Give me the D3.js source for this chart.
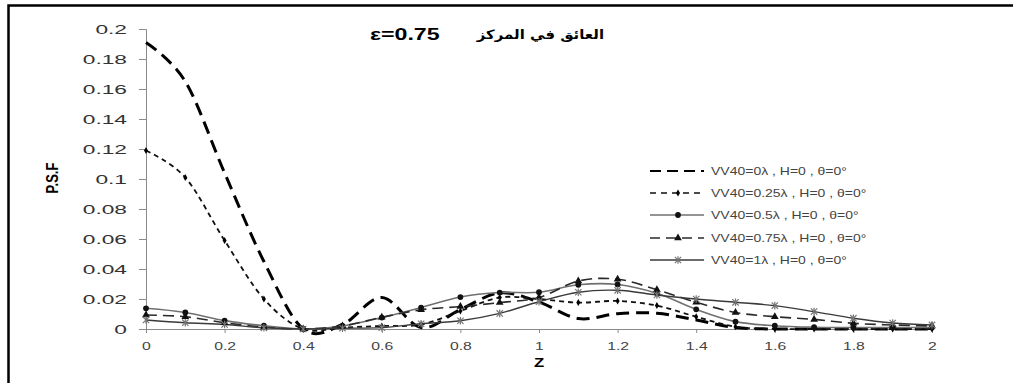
<!DOCTYPE html>
<html>
<head>
<meta charset="utf-8">
<script src="https://cdn.jsdelivr.net/npm/d3@7"></script>
<style>
  body { margin: 0; background: #fff; }
  svg { display: block; font-family: 'Liberation Sans', Arial, sans-serif; }
</style>
</head>
<body>
<figure id="psf" style="margin:0"></figure>
<script>
// z positions and tick labels
const zValues = [0, 0.1, 0.2, 0.3, 0.4, 0.5, 0.6, 0.7, 0.8, 0.9, 1, 1.1, 1.2, 1.3, 1.4, 1.5, 1.6, 1.7, 1.8, 1.9, 2];
const xTicks = [0, 0.2, 0.4, 0.6, 0.8, 1, 1.2, 1.4, 1.6, 1.8, 2];
const yTicks = [0, 0.02, 0.04, 0.06, 0.08, 0.1, 0.12, 0.14, 0.16, 0.18, 0.2];

const seriesNames = [
  'VV40=0λ , H=0 , θ=0°',
  'VV40=0.25λ , H=0 , θ=0°',
  'VV40=0.5λ , H=0 , θ=0°',
  'VV40=0.75λ , H=0 , θ=0°',
  'VV40=1λ , H=0 , θ=0°'
];

// P.S.F values
const psfW0 = [0.191, 0.165, 0.104, 0.045, 0, 0.003, 0.021, 0.001, 0.013, 0.024, 0.018, 0.007, 0.0102, 0.0105, 0.006, 0.001, 0, 0, 0, 0, 0];
const psfW025 = [0.119, 0.101, 0.059, 0.020, 0, 0.001, 0.002, 0.003, 0.012, 0.021, 0.020, 0.0176, 0.0187, 0.0156, 0.0082, 0.0015, 0, 0, 0, 0, 0];
const psfW05 = [0.0138, 0.011, 0.0056, 0.0022, 0, 0.002, 0.0076, 0.0143, 0.0213, 0.0243, 0.0245, 0.0295, 0.0297, 0.0238, 0.0131, 0.0049, 0.0022, 0.0012, 0.001, 0.001, 0.001];
const psfW075 = [0.0093, 0.0082, 0.0042, 0.0012, 0, 0.002, 0.0078, 0.0128, 0.015, 0.0176, 0.021, 0.032, 0.0332, 0.0262, 0.0178, 0.011, 0.0082, 0.0064, 0.0038, 0.0027, 0.002];
const psfW1 = [0.006, 0.0042, 0.003, 0.0008, 0, 0.0005, 0.0009, 0.0035, 0.0055, 0.0104, 0.0182, 0.0245, 0.0258, 0.0227, 0.020, 0.0178, 0.0156, 0.0116, 0.0072, 0.004, 0.0027];

const width = 1013, height = 383;
const plot = { left: 146, right: 932, top: 29, bottom: 329 };

const svg = d3.select('figure#psf').append('svg')
  .attr('width', width)
  .attr('height', height);

// outer frame (right and bottom edges run off the picture)
svg.append('rect')
  .attr('x', 8.5).attr('y', 5.5)
  .attr('width', 1100).attr('height', 500)
  .attr('fill', 'none').attr('stroke', '#000').attr('stroke-width', 2.5);

const xScale = d3.scaleLinear().domain([0, 2]).range([plot.left, plot.right]);
const yScale = d3.scaleLinear().domain([0, 0.2]).range([plot.bottom, plot.top]);

// asterisk marker like the spreadsheet one
const asterisk = {
  draw(ctx, size) {
    const r = Math.sqrt(size) / 2;
    ctx.moveTo(-r, -r); ctx.lineTo(r, r);
    ctx.moveTo(-r, r); ctx.lineTo(r, -r);
    ctx.moveTo(0, -r * 1.2); ctx.lineTo(0, r * 1.2);
  }
};

const styles = [
  { values: psfW0, stroke: '#000', width: 3, dash: '13,7', legendWidth: 2, legendDash: '11,6', marker: null },
  { values: psfW025, stroke: '#111', width: 1.8, dash: '5,4', legendWidth: 1.6, legendDash: '6,5', marker: d3.symbolDiamond, mSize: 14, mFill: '#000', mStroke: 'none' },
  { values: psfW05, stroke: '#707070', width: 1.6, dash: null, legendWidth: 1.6, legendDash: null, marker: d3.symbolCircle, mSize: 26, mFill: '#111', mStroke: 'none' },
  { values: psfW075, stroke: '#2a2a2a', width: 1.6, dash: '11,6', legendWidth: 1.6, legendDash: '10,6', marker: d3.symbolTriangle, mSize: 26, mFill: '#111', mStroke: 'none' },
  { values: psfW1, stroke: '#3a3a3a', width: 1.4, dash: null, legendWidth: 1.4, legendDash: null, marker: asterisk, mSize: 40, mFill: 'none', mStroke: '#777' }
];

// axes
const xAxis = d3.axisBottom(xScale).tickValues(xTicks).tickSize(4).tickFormat(d3.format('~g'));
const yAxis = d3.axisLeft(yScale).tickValues(yTicks).tickSize(7).tickFormat(d3.format('~g'));

const xAxisGroup = svg.append('g')
  .attr('transform', `translate(0,${plot.bottom})`)
  .call(xAxis);
xAxisGroup.selectAll('.tick text')
  .attr('font-size', 10.5)
  .attr('fill', '#444')
  .attr('y', 14)
  .attr('transform', 'scale(1.5,1)');

const yAxisGroup = svg.append('g')
  .attr('transform', `translate(${plot.left},0)`)
  .call(yAxis);
yAxisGroup.selectAll('.tick text')
  .attr('font-size', 13)
  .attr('fill', '#333')
  .attr('x', -19 / 1.75)
  .attr('transform', 'scale(1.75,1)');

svg.selectAll('.domain, .tick line').attr('stroke', '#8a8a8a');

// curves
const line = d3.line()
  .x((d, i) => xScale(zValues[i]))
  .y(d => yScale(d))
  .curve(d3.curveCatmullRom.alpha(0));

const graph = svg.append('g');

graph.selectAll('.series')
  .data(styles)
  .join('path')
  .attr('class', 'series')
  .attr('fill', 'none')
  .attr('stroke', d => d.stroke)
  .attr('stroke-width', d => d.width)
  .attr('stroke-dasharray', d => d.dash)
  .attr('d', d => line(d.values));

styles.forEach(s => {
  if (!s.marker) return;
  graph.append('g')
    .selectAll('path')
    .data(s.values)
    .join('path')
    .attr('transform', (d, i) => `translate(${xScale(zValues[i])},${yScale(d)})`)
    .attr('d', d3.symbol(s.marker, s.mSize))
    .attr('fill', s.mFill)
    .attr('stroke', s.mStroke)
    .attr('stroke-width', 1.2);
});

// legend
const legendRows = [171, 193, 215, 238, 260];
const legends = svg.append('g')
  .selectAll('.legend')
  .data(styles)
  .join('g')
  .attr('class', 'legend')
  .attr('transform', (d, i) => `translate(650,${legendRows[i]})`);

legends.append('line')
  .attr('x1', 0).attr('x2', 54)
  .attr('stroke', d => d.stroke)
  .attr('stroke-width', d => d.legendWidth)
  .attr('stroke-dasharray', d => d.legendDash);

legends.filter(d => d.marker)
  .append('path')
  .attr('transform', 'translate(28,0)')
  .attr('d', d => d3.symbol(d.marker, d.mSize)())
  .attr('fill', d => d.mFill)
  .attr('stroke', d => d.mStroke)
  .attr('stroke-width', 1.2);

legends.append('text')
  .attr('transform', 'translate(61,0) scale(1.4,1)')
  .attr('dy', '0.35em')
  .attr('font-size', 10)
  .attr('fill', '#444')
  .text((d, i) => seriesNames[i]);

// titles
svg.append('text')
  .attr('transform', 'translate(370,40) scale(1.45,1)')
  .attr('font-size', 16)
  .attr('font-weight', 'bold')
  .text('ε=0.75');

svg.append('text')
  .attr('transform', 'translate(604,39) scale(1.15,1)')
  .attr('font-family', "'DejaVu Sans', sans-serif")
  .attr('font-size', 13)
  .attr('font-weight', 'bold')
  .attr('direction', 'rtl')
  .attr('text-anchor', 'start')
  .text('العائق في المركز');

svg.append('text')
  .attr('transform', 'translate(58,178) rotate(-90) scale(1,1.3)')
  .attr('text-anchor', 'middle')
  .attr('font-size', 13)
  .attr('font-weight', 'bold')
  .text('P.S.F');

svg.append('text')
  .attr('transform', 'translate(539,367) scale(1.4,1)')
  .attr('text-anchor', 'middle')
  .attr('font-size', 12)
  .attr('font-weight', 'bold')
  .text('Z');
</script>
</body>
</html>
